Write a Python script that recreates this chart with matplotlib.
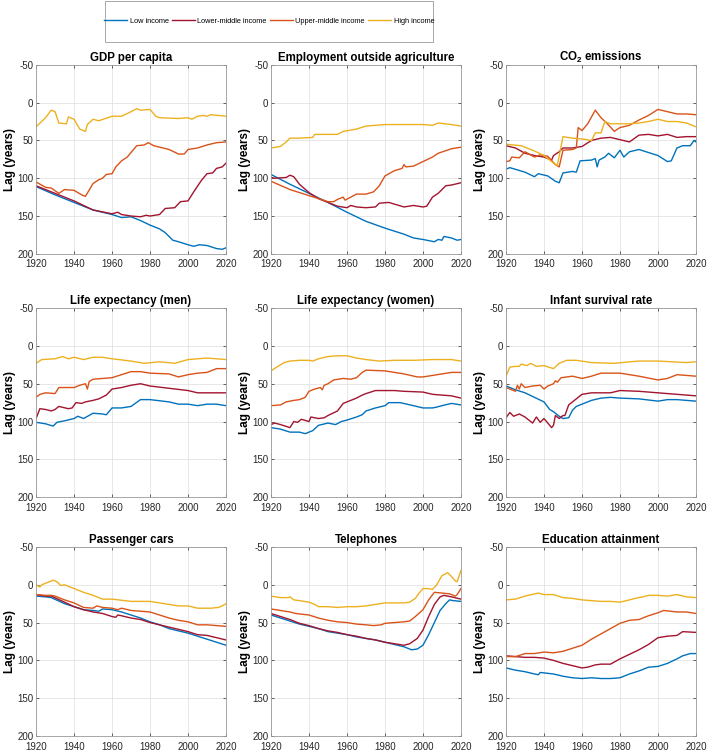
import numpy as np
import matplotlib
matplotlib.use("Agg")
import matplotlib.pyplot as plt
from matplotlib.patches import Rectangle

plt.rcParams['font.family'] = ['Liberation Sans', 'DejaVu Sans']
plt.rcParams['mathtext.fontset'] = 'custom'
plt.rcParams['mathtext.rm'] = 'Liberation Sans'
plt.rcParams['mathtext.bf'] = 'Liberation Sans:bold'
plt.rcParams['axes.unicode_minus'] = False

# income groups and colours (MATLAB default order)
groups = ['Low income', 'Lower-middle income', 'Upper-middle income', 'High income']
colors = ['#0072BD', '#A2142F', '#D95319', '#EDB120']

# (year, lag) pairs
gdp_low = [(1920, 111), (1930, 122), (1940, 132), (1950, 142), (1960, 148), (1965, 152), (1970, 151),
           (1975, 156), (1980, 162), (1985, 167), (1988, 172), (1992, 182), (1995, 184), (2000, 188),
           (2003, 190), (2006, 188), (2010, 189), (2015, 193), (2018, 194), (2020, 192)]
gdp_lmid = [(1920, 110), (1930, 120), (1940, 130), (1950, 142), (1960, 147), (1963, 145), (1965, 148),
            (1970, 150), (1975, 151), (1978, 149), (1980, 150), (1985, 148), (1988, 140), (1993, 139),
            (1996, 131), (2000, 130), (2003, 118), (2007, 103), (2010, 94), (2013, 93), (2015, 87),
            (2018, 85), (2020, 80)]
gdp_umid = [(1920, 105), (1925, 112), (1928, 113), (1932, 120), (1935, 115), (1940, 116), (1944, 122),
            (1946, 124), (1950, 107), (1953, 102), (1955, 100), (1957, 95), (1960, 94), (1962, 85),
            (1965, 77), (1968, 72), (1970, 66), (1973, 57), (1977, 56), (1979, 53), (1982, 57),
            (1990, 62), (1995, 68), (1998, 68), (2000, 62), (2005, 60), (2010, 56), (2015, 53), (2020, 52)]
gdp_high = [(1920, 32), (1925, 20), (1928, 10), (1930, 12), (1932, 27), (1936, 28), (1937, 19),
            (1940, 22), (1943, 35), (1946, 38), (1947, 29), (1950, 22), (1953, 24), (1960, 18),
            (1965, 18), (1970, 12), (1973, 8), (1975, 10), (1980, 9), (1983, 18), (1985, 20),
            (1995, 21), (2000, 20), (2002, 22), (2005, 18), (2008, 17), (2010, 18), (2012, 16), (2020, 18)]

emp_low = [(1920, 95), (1930, 108), (1940, 120), (1950, 132), (1960, 145), (1970, 157), (1980, 166),
           (1990, 174), (1995, 179), (2000, 181), (2006, 184), (2008, 181), (2010, 182), (2011, 177),
           (2015, 179), (2018, 182), (2020, 181)]
emp_lmid = [(1920, 99), (1922, 100), (1928, 99), (1930, 96), (1932, 98), (1935, 108), (1940, 119),
            (1945, 127), (1950, 132), (1955, 137), (1960, 139), (1962, 136), (1965, 138), (1970, 139),
            (1975, 138), (1977, 133), (1982, 132), (1990, 138), (1995, 136), (2000, 138), (2002, 137),
            (2005, 125), (2008, 120), (2012, 110), (2015, 109), (2020, 106)]
emp_umid = [(1920, 104), (1930, 115), (1940, 123), (1950, 131), (1953, 131), (1955, 128), (1958, 125),
            (1959, 129), (1962, 125), (1965, 121), (1970, 121), (1974, 118), (1977, 110), (1980, 97),
            (1985, 90), (1989, 87), (1990, 82), (1991, 85), (1995, 84), (2000, 78), (2005, 72),
            (2008, 67), (2015, 61), (2020, 59)]
emp_high = [(1920, 60), (1925, 58), (1928, 52), (1930, 47), (1935, 47), (1942, 46), (1943, 42),
            (1950, 42), (1955, 42), (1958, 38), (1965, 35), (1970, 31), (1975, 30), (1980, 29),
            (1990, 29), (2000, 29), (2005, 30), (2008, 27), (2015, 29), (2020, 31)]

co2_low = [(1920, 88), (1922, 86), (1930, 92), (1935, 98), (1937, 94), (1942, 97), (1946, 104),
           (1948, 106), (1950, 93), (1955, 91), (1957, 92), (1959, 77), (1965, 76), (1967, 74),
           (1968, 85), (1969, 76), (1972, 72), (1974, 67), (1977, 73), (1980, 63), (1982, 72),
           (1985, 65), (1990, 62), (1995, 66), (2000, 70), (2005, 78), (2007, 77), (2010, 60),
           (2013, 57), (2017, 57), (2019, 50), (2020, 52)]
co2_lmid = [(1920, 57), (1925, 60), (1930, 67), (1935, 70), (1940, 72), (1944, 76), (1945, 70),
            (1948, 65), (1950, 60), (1955, 60), (1960, 58), (1965, 50), (1970, 47), (1975, 46),
            (1980, 49), (1985, 52), (1990, 43), (1995, 42), (2000, 44), (2005, 42), (2010, 46),
            (2015, 45), (2020, 45)]
co2_umid = [(1920, 78), (1922, 77), (1923, 72), (1927, 73), (1930, 65), (1935, 72), (1938, 69),
            (1942, 71), (1946, 82), (1948, 85), (1950, 63), (1955, 62), (1957, 60), (1958, 33),
            (1960, 37), (1963, 28), (1967, 10), (1970, 20), (1973, 27), (1977, 38), (1980, 33),
            (1985, 30), (1990, 23), (1995, 17), (2000, 9), (2005, 12), (2010, 15), (2015, 15), (2020, 16)]
co2_high = [(1920, 55), (1928, 57), (1935, 64), (1940, 70), (1945, 80), (1947, 83), (1950, 45),
            (1955, 47), (1960, 48), (1965, 50), (1967, 40), (1970, 40), (1972, 25), (1975, 28),
            (1980, 28), (1985, 28), (1990, 27), (1995, 25), (2000, 22), (2005, 25), (2010, 25),
            (2015, 27), (2020, 32)]

lem_low = [(1920, 101), (1925, 103), (1929, 106), (1931, 101), (1935, 99), (1940, 96), (1942, 93),
           (1945, 96), (1950, 89), (1955, 90), (1957, 91), (1960, 82), (1965, 82), (1970, 80),
           (1975, 71), (1980, 71), (1990, 74), (1995, 77), (2000, 77), (2005, 79), (2010, 77),
           (2015, 77), (2020, 79)]
lem_lmid = [(1920, 96), (1922, 83), (1925, 84), (1928, 86), (1930, 84), (1932, 80), (1937, 83),
            (1939, 82), (1941, 75), (1944, 76), (1946, 74), (1950, 72), (1953, 70), (1957, 65),
            (1960, 57), (1965, 55), (1970, 52), (1975, 50), (1980, 53), (1990, 56), (2000, 59),
            (2005, 62), (2020, 62)]
lem_umid = [(1920, 68), (1922, 64), (1925, 62), (1930, 63), (1932, 55), (1940, 55), (1943, 52),
            (1946, 50), (1947, 57), (1948, 47), (1950, 44), (1955, 43), (1960, 42), (1965, 38),
            (1970, 34), (1975, 34), (1980, 36), (1990, 37), (1995, 41), (2000, 38), (2005, 36),
            (2010, 35), (2015, 30), (2020, 30)]
lem_high = [(1920, 23), (1923, 18), (1930, 17), (1934, 14), (1937, 17), (1940, 15), (1945, 18),
            (1950, 15), (1955, 15), (1960, 17), (1970, 20), (1977, 23), (1985, 21), (1993, 23),
            (2000, 18), (2010, 16), (2020, 18)]

lew_low = [(1920, 108), (1925, 110), (1930, 114), (1935, 114), (1938, 116), (1942, 112), (1945, 105),
           (1950, 102), (1954, 104), (1957, 100), (1960, 98), (1965, 94), (1968, 91), (1970, 86),
           (1975, 82), (1980, 79), (1982, 75), (1988, 75), (1995, 79), (2000, 82), (2005, 82),
           (2007, 81), (2010, 79), (2015, 76), (2020, 78)]
lew_lmid = [(1920, 104), (1922, 102), (1925, 104), (1930, 108), (1932, 100), (1934, 101), (1936, 97),
            (1940, 100), (1941, 94), (1945, 96), (1948, 95), (1950, 92), (1955, 86), (1958, 76),
            (1962, 72), (1965, 69), (1968, 65), (1970, 63), (1975, 59), (1985, 59), (1990, 60),
            (2000, 61), (2005, 64), (2015, 66), (2020, 69)]
lew_umid = [(1920, 79), (1925, 78), (1928, 74), (1932, 72), (1935, 71), (1938, 68), (1940, 60),
            (1943, 57), (1946, 55), (1947, 58), (1948, 52), (1950, 50), (1953, 45), (1958, 43),
            (1962, 44), (1965, 42), (1968, 35), (1970, 32), (1980, 33), (1990, 37), (1997, 41),
            (2000, 41), (2010, 37), (2015, 35), (2020, 35)]
lew_high = [(1920, 33), (1923, 28), (1927, 22), (1930, 20), (1935, 19), (1940, 19), (1942, 20),
            (1945, 17), (1950, 14), (1955, 13), (1960, 13), (1965, 16), (1970, 18), (1977, 20),
            (1985, 19), (1995, 19), (2005, 18), (2015, 18), (2020, 20)]

inf_low = [(1920, 53), (1925, 58), (1930, 62), (1935, 68), (1940, 74), (1943, 84), (1945, 87),
           (1948, 93), (1950, 96), (1953, 95), (1955, 85), (1957, 80), (1960, 77), (1965, 72),
           (1970, 69), (1975, 68), (1980, 69), (1990, 70), (2000, 73), (2005, 71), (2010, 71), (2020, 73)]
inf_lmid = [(1920, 95), (1922, 88), (1924, 93), (1927, 90), (1930, 94), (1934, 102), (1936, 94),
            (1938, 101), (1940, 96), (1944, 108), (1945, 105), (1946, 92), (1948, 96), (1950, 92),
            (1951, 92), (1953, 78), (1957, 70), (1960, 64), (1965, 62), (1970, 62), (1975, 62),
            (1980, 59), (1990, 60), (2000, 62), (2010, 64), (2020, 66)]
inf_umid = [(1920, 55), (1925, 60), (1926, 52), (1927, 57), (1928, 50), (1930, 55), (1934, 53),
            (1938, 52), (1940, 57), (1942, 53), (1945, 50), (1946, 46), (1947, 48), (1949, 42),
            (1955, 40), (1960, 43), (1965, 40), (1970, 36), (1980, 36), (1990, 40), (2000, 45),
            (2005, 43), (2010, 38), (2020, 40)]
inf_high = [(1920, 40), (1922, 28), (1925, 27), (1927, 27), (1928, 24), (1931, 26), (1933, 23),
            (1936, 27), (1940, 26), (1945, 30), (1948, 23), (1952, 19), (1957, 19), (1965, 22),
            (1977, 23), (1985, 21), (1990, 20), (2000, 20), (2015, 22), (2020, 21)]

car_low = [(1920, 15), (1925, 16), (1928, 17), (1935, 25), (1940, 29), (1945, 33), (1950, 34),
           (1953, 35), (1955, 32), (1960, 33), (1965, 36), (1970, 40), (1975, 44), (1980, 49),
           (1985, 53), (1990, 58), (1995, 61), (2000, 64), (2005, 68), (2010, 72), (2015, 76), (2020, 80)]
car_lmid = [(1920, 13), (1925, 15), (1928, 15), (1935, 23), (1940, 29), (1945, 33), (1950, 36),
            (1955, 38), (1960, 42), (1962, 43), (1963, 40), (1965, 41), (1970, 44), (1975, 46),
            (1980, 50), (1985, 53), (1990, 56), (1995, 59), (2000, 62), (2005, 66), (2010, 67),
            (2015, 70), (2020, 73)]
car_umid = [(1920, 13), (1925, 14), (1928, 14), (1930, 15), (1935, 20), (1940, 24), (1945, 30),
            (1950, 31), (1952, 28), (1955, 30), (1960, 31), (1963, 33), (1965, 31), (1970, 34),
            (1975, 35), (1980, 36), (1985, 40), (1990, 44), (1995, 47), (2000, 49), (2005, 53),
            (2010, 53), (2015, 54), (2020, 55)]
car_high = [(1920, 0), (1922, 3), (1923, 0), (1925, -2), (1929, -6), (1931, -4), (1933, 1), (1935, 0),
            (1940, 5), (1945, 10), (1950, 14), (1955, 19), (1960, 19), (1970, 22), (1975, 22),
            (1980, 22), (1985, 24), (1990, 26), (1995, 28), (2000, 28), (2005, 31), (2012, 31),
            (2016, 30), (2018, 28), (2020, 25)]

tel_low = [(1920, 40), (1925, 44), (1930, 48), (1935, 52), (1940, 55), (1945, 58), (1950, 62),
           (1955, 64), (1960, 66), (1965, 69), (1970, 71), (1975, 73), (1980, 76), (1985, 79),
           (1990, 82), (1994, 86), (1997, 85), (2000, 80), (2003, 66), (2006, 50), (2009, 34),
           (2012, 25), (2014, 20), (2016, 21), (2020, 22)]
tel_lmid = [(1920, 38), (1925, 42), (1930, 46), (1935, 51), (1940, 54), (1945, 58), (1950, 61),
            (1955, 63), (1960, 66), (1965, 68), (1970, 71), (1975, 73), (1980, 76), (1985, 78),
            (1990, 80), (1993, 78), (1997, 71), (2000, 60), (2003, 42), (2006, 26), (2009, 16),
            (2011, 14), (2015, 16), (2020, 19)]
tel_umid = [(1920, 32), (1925, 34), (1930, 36), (1933, 38), (1940, 40), (1945, 44), (1950, 47),
            (1955, 49), (1960, 50), (1965, 52), (1970, 53), (1974, 54), (1978, 53), (1980, 51),
            (1985, 50), (1990, 49), (1993, 48), (1996, 42), (2000, 33), (2003, 20), (2006, 10),
            (2010, 11), (2014, 12), (2017, 15), (2018, 13), (2020, 5)]
tel_high = [(1920, 15), (1925, 17), (1929, 17), (1930, 16), (1932, 20), (1935, 21), (1940, 23),
            (1943, 26), (1945, 29), (1950, 29), (1955, 30), (1960, 29), (1965, 29), (1970, 28),
            (1975, 26), (1980, 24), (1985, 24), (1990, 24), (1993, 23), (1996, 18), (1998, 11),
            (2000, 5), (2002, 5), (2005, 6), (2007, 1), (2010, -12), (2013, -16), (2015, -11),
            (2017, -5), (2018, -4), (2020, -19)]

edu_low = [(1920, 110), (1925, 113), (1930, 115), (1935, 118), (1937, 119), (1938, 116), (1945, 118),
           (1950, 121), (1955, 123), (1960, 124), (1965, 123), (1970, 124), (1975, 124), (1980, 123),
           (1985, 118), (1990, 114), (1995, 109), (2000, 108), (2005, 104), (2010, 98), (2013, 94),
           (2017, 91), (2020, 91)]
edu_lmid = [(1920, 94), (1925, 95), (1930, 96), (1935, 96), (1940, 97), (1945, 100), (1950, 104),
            (1955, 107), (1960, 110), (1963, 109), (1967, 106), (1970, 105), (1975, 105), (1980, 98),
            (1985, 92), (1990, 86), (1995, 79), (2000, 70), (2005, 68), (2010, 67), (2013, 62), (2020, 63)]
edu_umid = [(1920, 95), (1925, 95), (1930, 91), (1935, 91), (1940, 89), (1945, 90), (1950, 88),
            (1955, 84), (1960, 80), (1965, 72), (1970, 65), (1975, 58), (1980, 51), (1985, 47),
            (1990, 46), (1995, 41), (2000, 37), (2003, 34), (2010, 36), (2015, 36), (2020, 38)]
edu_high = [(1920, 20), (1925, 19), (1930, 15), (1937, 11), (1940, 13), (1945, 13), (1950, 17),
            (1955, 18), (1960, 20), (1965, 21), (1970, 22), (1975, 22), (1980, 23), (1985, 20),
            (1988, 18), (1992, 16), (1995, 14), (2000, 14), (2005, 15), (2010, 13), (2015, 16), (2020, 17)]

titles = ['GDP per capita', 'Employment outside agriculture', r'CO$_\mathbf{2}$ emissions',
          'Life expectancy (men)', 'Life expectancy (women)', 'Infant survival rate',
          'Passenger cars', 'Telephones', 'Education attainment']
panels = [
    [gdp_low, gdp_lmid, gdp_umid, gdp_high],
    [emp_low, emp_lmid, emp_umid, emp_high],
    [co2_low, co2_lmid, co2_umid, co2_high],
    [lem_low, lem_lmid, lem_umid, lem_high],
    [lew_low, lew_lmid, lew_umid, lew_high],
    [inf_low, inf_lmid, inf_umid, inf_high],
    [car_low, car_lmid, car_umid, car_high],
    [tel_low, tel_lmid, tel_umid, tel_high],
    [edu_low, edu_lmid, edu_umid, edu_high],
]

fig = plt.figure(figsize=(7.07, 7.51), dpi=100)

# axes grid in figure fractions
lefts = [0.051, 0.3833, 0.7157]
bottoms = [0.662, 0.338, 0.020]
w, h = 0.2687, 0.2517

lines = []
for i, (title, series) in enumerate(zip(titles, panels)):
    r, c = divmod(i, 3)
    ax = fig.add_axes([lefts[c], bottoms[r], w, h])
    for s, col in zip(series, colors):
        arr = np.array(s)
        ln, = ax.plot(arr[:, 0], arr[:, 1], color=col, lw=1.0)
        if i == 0:
            lines.append(ln)
    ax.set_xlim(1920, 2020)
    ax.set_ylim(200, -50)
    ax.set_xticks(np.arange(1920, 2021, 20))
    ax.set_yticks(np.arange(-50, 201, 50))
    ax.grid(True, color='#e3e3e3', lw=0.6)
    ax.set_axisbelow(True)
    ax.tick_params(direction='in', length=2.5, width=0.5, labelsize=7, colors='#262626',
                   top=True, right=True)
    ax.tick_params(axis='x', pad=4)
    ax.tick_params(axis='y', pad=2)
    for sp in ax.spines.values():
        sp.set_color('#9a9a9a')
        sp.set_linewidth(0.6)
    ax.set_title(title, fontsize=8.3, fontweight='bold', pad=3)
    ax.set_ylabel('Lag (years)', fontsize=8.5, fontweight='bold', labelpad=1)

# legend box drawn separately: wide vertical padding, tight horizontal padding
fig.patches.append(Rectangle((0.1485, 0.944), 0.4639, 0.0547, transform=fig.transFigure,
                             facecolor='white', edgecolor='#9a9a9a', lw=0.6, zorder=5))
leg = fig.legend(lines, groups, loc='center', bbox_to_anchor=(0.3805, 0.9715), ncol=4,
                 fontsize=5.3, frameon=False, handlelength=3.2,
                 handletextpad=0.3, columnspacing=0.4, borderpad=0, borderaxespad=0)
leg.set_zorder(6)

fig.savefig('out.png', dpi=100)
